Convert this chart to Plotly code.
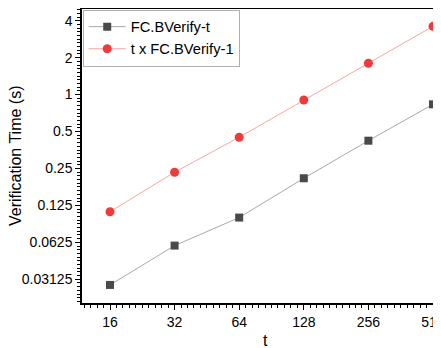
import math
import plotly.graph_objects as go

t_values = [16, 32, 64, 128, 256, 512]
fc_bverify_t = [0.0281, 0.0588, 0.0995, 0.208, 0.421, 0.833]
t_x_fc_bverify_1 = [0.111, 0.233, 0.449, 0.904, 1.80, 3.60]

x_tick_vals = [16, 32, 64, 128, 256, 512]
x_tick_text = ["16", "32", "64", "128", "256", "512"]
y_tick_vals = [0.03125, 0.0625, 0.125, 0.25, 0.5, 1, 2, 4]
y_tick_text = ["0.03125", "0.0625", "0.125", "0.25", "0.5", "1", "2", "4"]

FONT = "Liberation Sans, Arial, sans-serif"

# page body has an 8px margin, so the figure is laid out 8px smaller
OFF = 8
W, H = 441 - OFF, 348 - OFF
ML, MR, MT = 82 - OFF, 0, 9 - OFF
MB = H - (303 - OFF)
PW, PH = W - ML - MR, H - MT - MB

def minor_vals(lo_exp, hi_exp, n=10):
    vals = []
    for e in range(lo_exp, hi_exp):
        for k in range(1, n):
            vals.append(2 ** (e + k / n))
    return vals

fig = go.Figure()
fig.add_trace(go.Scatter(
    x=t_values, y=fc_bverify_t, name="FC.BVerify-t",
    mode="lines+markers",
    line=dict(color="#a8a8a8", width=1),
    marker=dict(symbol="square", size=8, color="#4a4a4a"),
    cliponaxis=False,
))
fig.add_trace(go.Scatter(
    x=t_values, y=t_x_fc_bverify_1, name="t x FC.BVerify-1",
    mode="lines+markers",
    line=dict(color="#f7a3a3", width=1),
    marker=dict(symbol="circle", size=9, color="#ef3b3b"),
    cliponaxis=False,
))

L2 = math.log10(2)
fig.update_layout(
    width=W, height=H,
    margin=dict(l=ML, r=MR, t=MT, b=MB, autoexpand=False),
    paper_bgcolor="white", plot_bgcolor="white",
    font=dict(family=FONT, color="black", size=14),
    showlegend=True,
    legend=dict(
        x=0.002, y=0.998, xanchor="left", yanchor="top",
        bgcolor="white", bordercolor="#b0b0b0", borderwidth=1,
        font=dict(family=FONT, size=14.7, color="black"),
        itemwidth=37, tracegroupgap=0,
    ),
    xaxis=dict(
        type="log", automargin=False,
        range=[3.5666 * L2, 9.1238 * L2],
        tickmode="array", tickvals=x_tick_vals, ticktext=x_tick_text,
        ticks="outside", ticklen=5, tickwidth=1.3, tickcolor="black",
        ticklabeloverflow="allow",
        showline=True, linecolor="black", linewidth=1.5, mirror=True,
        showgrid=False, zeroline=False,
        tickfont=dict(family=FONT, size=14),
        minor=dict(tickmode="array", tickvals=minor_vals(3, 10),
                   ticks="outside", ticklen=3, tickwidth=1, tickcolor="black",
                   showgrid=False),
    ),
    yaxis=dict(
        type="log", automargin=False,
        range=[-5.642 * L2, 2.317 * L2],
        tickmode="array", tickvals=y_tick_vals, ticktext=y_tick_text,
        ticks="outside", ticklen=5, tickwidth=1.3, tickcolor="black",
        ticklabeloverflow="allow",
        showline=True, linecolor="black", linewidth=1.5, mirror=False,
        showgrid=False, zeroline=False,
        tickfont=dict(family=FONT, size=14),
        minor=dict(tickmode="array", tickvals=minor_vals(-6, 3),
                   ticks="outside", ticklen=3, tickwidth=1, tickcolor="black",
                   showgrid=False),
    ),
    annotations=[
        dict(text="t", xref="paper", yref="paper",
             x=(265 - OFF - ML) / PW, y=(MT + PH - (340 - OFF)) / PH,
             xanchor="center", yanchor="middle", showarrow=False,
             font=dict(family=FONT, size=16)),
        dict(text="Verification Time (s)", xref="paper", yref="paper",
             x=(15 - OFF - ML) / PW, y=0.5, textangle=-90,
             xanchor="center", yanchor="middle", showarrow=False,
             font=dict(family=FONT, size=16)),
    ],
)

fig.write_html("out.html")
